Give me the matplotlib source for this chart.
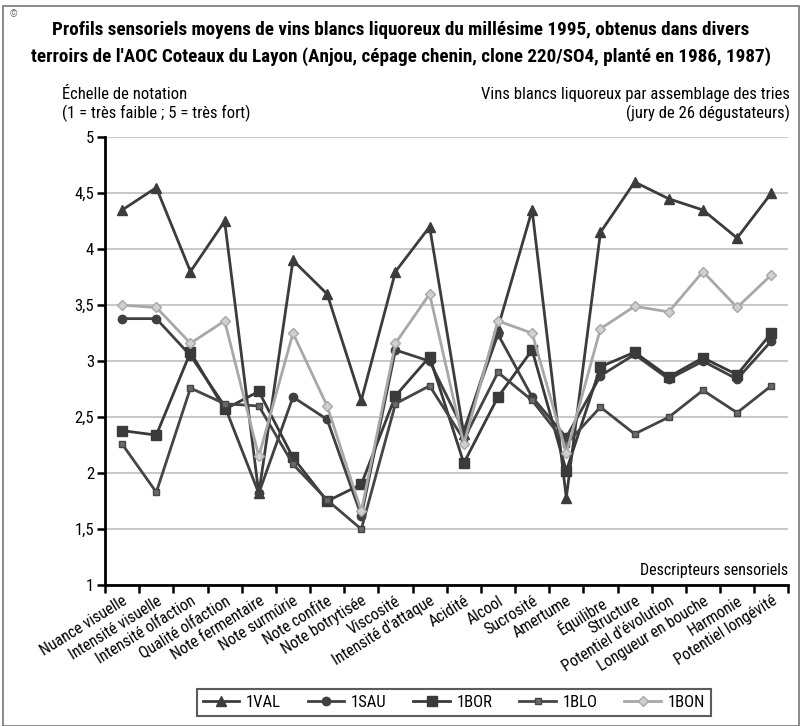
#!/usr/bin/env python3

import matplotlib
matplotlib.use("Agg")
import matplotlib.pyplot as plt
from matplotlib.patches import Rectangle
from matplotlib.ticker import FixedLocator, FuncFormatter

plt.rcParams["font.family"] = ["DejaVu Sans Condensed", "Liberation Sans Narrow",
                               "Roboto Condensed", "DejaVu Sans"]
plt.rcParams["font.stretch"] = "condensed"

descripteurs = [
    "Nuance visuelle", "Intensité visuelle", "Intensité olfaction",
    "Qualité olfaction", "Note fermentaire", "Note surmûrie", "Note confite",
    "Note botrytisée", "Viscosité", "Intensité d'attaque", "Acidité", "Alcool",
    "Sucrosité", "Amertume", "Équilibre", "Structure",
    "Potentiel d'évolution", "Longueur en bouche", "Harmonie",
    "Potentiel longévité",
]

val_1VAL = [4.35, 4.55, 3.8, 4.25, 1.82, 3.9, 3.6, 2.65, 3.8, 4.2,
            2.35, 3.3, 4.35, 1.78, 4.15, 4.6, 4.45, 4.35, 4.1, 4.5]
val_1SAU = [3.38, 3.38, 3.05, 2.6, 1.82, 2.68, 2.48, 1.62, 3.1, 3.0,
            2.38, 3.24, 2.68, 2.32, 2.87, 3.06, 2.84, 3.0, 2.84, 3.18]
val_1BOR = [2.38, 2.34, 3.08, 2.57, 2.73, 2.14, 1.75, 1.9, 2.69, 3.04,
            2.09, 2.68, 3.1, 2.02, 2.95, 3.08, 2.86, 3.03, 2.88, 3.25]
val_1BLO = [2.26, 1.83, 2.76, 2.62, 2.6, 2.08, 1.76, 1.5, 2.62, 2.78,
            2.3, 2.9, 2.65, 2.26, 2.59, 2.35, 2.5, 2.74, 2.54, 2.78]
val_1BON = [3.5, 3.48, 3.16, 3.36, 2.15, 3.25, 2.6, 1.66, 3.16, 3.6,
            2.26, 3.36, 3.25, 2.18, 3.29, 3.49, 3.44, 3.8, 3.48, 3.77]

series = [
    ("1VAL", val_1VAL, "^", "#3c3c3c", "#3c3c3c", 7),
    ("1SAU", val_1SAU, "o", "#404040", "#404040", 6),
    ("1BOR", val_1BOR, "s", "#3a3a3a", "#3a3a3a", 6.5),
    ("1BLO", val_1BLO, "s", "#454545", "#6a6a6a", 5),
    ("1BON", val_1BON, "D", "#a8a8a8", "#d0d0d0", 5.5),
]

fig = plt.figure(figsize=(8.02, 7.26), dpi=100)
ax = fig.add_axes([0.131, 0.194, 0.852, 0.617])

x = list(range(len(descripteurs)))
for nom, vals, mk, col, face, ms in series:
    ax.plot(x, vals, color=col, lw=2, marker=mk, ms=ms,
            markerfacecolor=face, markeredgecolor=col, label=nom)

ax.set_xlim(-0.5, len(descripteurs) - 0.5)
ax.set_ylim(1, 5)
ax.set_yticks([1, 1.5, 2, 2.5, 3, 3.5, 4, 4.5, 5])
ax.yaxis.set_major_formatter(FuncFormatter(lambda v, p: f"{v:g}".replace(".", ",")))
ax.yaxis.grid(True, color="#c4c4c4", lw=1.3)
ax.set_axisbelow(True)

ax.xaxis.set_major_locator(FixedLocator(x))
ax.set_xticklabels(descripteurs, rotation=32, ha="right", rotation_mode="anchor",
                   fontsize=11.5)
ax.tick_params(axis="x", which="major", length=0, pad=6)
ax.xaxis.set_minor_locator(FixedLocator([i - 0.5 for i in range(len(descripteurs) + 1)]))
ax.tick_params(axis="x", which="minor", length=6, width=1.8, direction="out")
ax.tick_params(axis="y", length=6, width=1.8, labelsize=12, pad=2)

for s in ["top", "right"]:
    ax.spines[s].set_visible(False)
for s in ["left", "bottom"]:
    ax.spines[s].set_linewidth(2)

ax.text(1.0, 0.015, "Descripteurs sensoriels", transform=ax.transAxes,
        ha="right", va="bottom", fontsize=11.5)

fig.text(0.5, 0.958, "Profils sensoriels moyens de vins blancs liquoreux du millésime 1995, obtenus dans divers",
         ha="center", va="center", fontsize=13.8, fontweight="bold")
fig.text(0.5, 0.922, "terroirs de l'AOC Coteaux du Layon (Anjou, cépage chenin, clone 220/SO4, planté en 1986, 1987)",
         ha="center", va="center", fontsize=13.8, fontweight="bold")
fig.text(0.077, 0.856, "Échelle de notation\n(1 = très faible ; 5 = très fort)",
         ha="left", va="center", fontsize=12, linespacing=1.2)
fig.text(0.985, 0.856, "Vins blancs liquoreux par assemblage des tries\n(jury de 26 dégustateurs)",
         ha="right", va="center", fontsize=12, linespacing=1.2, multialignment="right")
fig.text(0.012, 0.988, "©", ha="left", va="top", fontsize=7, color="#666666")

leg = fig.legend(loc="center", bbox_to_anchor=(0.566, 0.032), ncol=5,
                 fontsize=12, frameon=True, fancybox=False, handlelength=2.2,
                 handletextpad=0.4, columnspacing=1.6, borderpad=0.35)
leg.get_frame().set_edgecolor("#333333")
leg.get_frame().set_linewidth(1.5)

fig.patches.append(Rectangle((0.004, 0.0), 0.992, 0.992, transform=fig.transFigure,
                             fill=False, edgecolor="#777777", lw=1.2))

fig.savefig("out.png", dpi=100)
